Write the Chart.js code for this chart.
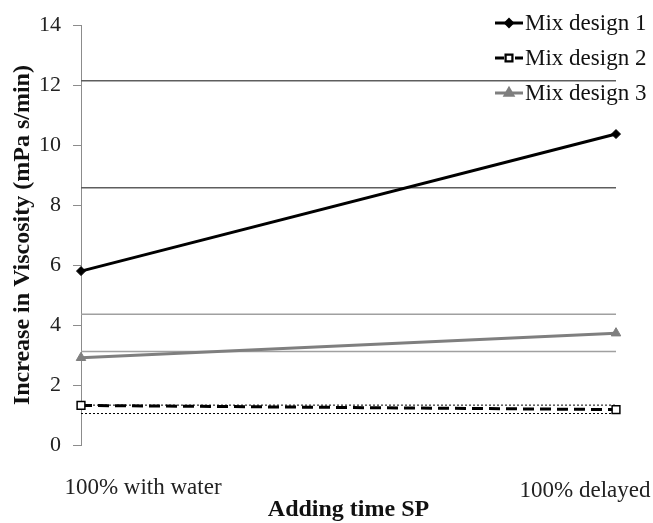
<!DOCTYPE html>
<html>
<head>
<meta charset="utf-8">
<script src="https://cdn.jsdelivr.net/npm/chart.js@4.4.1/dist/chart.umd.min.js"></script>
<style>
  html, body { margin: 0; padding: 0; background: #fff; }
  #wrap { width: 653px; height: 523px; }
</style>
</head>
<body>
<div id="wrap"><canvas id="viscosityChart" width="653" height="523"></canvas></div>
<script>
// categorie e valori
const categories = ['100% with water', '100% delayed'];
const mix1 = [5.8, 10.37];
const mix2 = [1.32, 1.18];
const mix3 = [2.91, 3.73];
// linee orizzontali di riferimento (limiti)
const mix1Upper = [12.15, 12.15];
const mix1Lower = [8.58, 8.58];
const mix2Upper = [1.33, 1.33];
const mix2Lower = [1.05, 1.05];
const mix3Upper = [4.36, 4.36];
const mix3Lower = [3.12, 3.12];
const yTicks = [0, 2, 4, 6, 8, 10, 12, 14];

const serif = '"Liberation Serif", "Times New Roman", serif';

// etichette categorie disegnate a mano (spostate come nell'originale)
const catLabels = {
  id: 'catLabels',
  afterDraw(chart) {
    const ctx = chart.ctx, x = chart.scales.x, area = chart.chartArea;
    const dx = [62, -31], dy = [43, 46];
    ctx.save();
    ctx.font = '23px ' + serif;
    ctx.fillStyle = '#222';
    ctx.textAlign = 'center';
    ctx.textBaseline = 'middle';
    categories.forEach((c, i) => {
      ctx.fillText(c, x.getPixelForValue(i) + dx[i], area.bottom + dy[i]);
    });
    ctx.restore();
  }
};

// legenda in alto a destra
const customLegend = {
  id: 'customLegend',
  afterDraw(chart) {
    const ctx = chart.ctx;
    const items = chart.data.datasets.filter(d => d.inLegend);
    ctx.save();
    items.forEach((d, i) => {
      const y = 23 + i * 35, x0 = 495, x1 = 523, xm = 509;
      ctx.strokeStyle = d.borderColor;
      ctx.lineWidth = d.borderWidth;
      ctx.setLineDash([]);
      ctx.beginPath();
      if (d.borderDash) {
        ctx.moveTo(x0, y); ctx.lineTo(x0 + 9, y);
        ctx.moveTo(x1 - 8, y); ctx.lineTo(x1, y);
      } else {
        ctx.moveTo(x0, y); ctx.lineTo(x1, y);
      }
      ctx.stroke();
      Chart.helpers.drawPoint(ctx, {
        pointStyle: d.pointStyle,
        radius: d.pointRadius - 1.2,
        borderWidth: d.pointBorderWidth,
        rotation: 0
      }, xm, y);
      ctx.fillStyle = d.pointBackgroundColor;
      ctx.strokeStyle = d.pointBorderColor;
      ctx.lineWidth = d.pointBorderWidth;
      ctx.fill();
      ctx.stroke();
      ctx.fillStyle = '#111';
      ctx.font = '23px ' + serif;
      ctx.textAlign = 'left';
      ctx.textBaseline = 'middle';
      ctx.fillText(d.label, 525, y + 1);
    });
    ctx.restore();
  }
};

function refLine(data, color, width, dash, order) {
  return {
    label: '', data: data, borderColor: color, borderWidth: width,
    borderDash: dash, pointRadius: 0, fill: false, order: order, inLegend: false
  };
}

const ctx = document.getElementById('viscosityChart').getContext('2d');
const viscosityChart = new Chart(ctx, {
  type: 'line',
  data: {
    labels: categories,
    datasets: [{
      label: 'Mix design 1', data: mix1, inLegend: true,
      borderColor: '#000', borderWidth: 3,
      pointStyle: 'rectRot', pointRadius: 4.5, pointBorderWidth: 1,
      pointBackgroundColor: '#000', pointBorderColor: '#000', order: 1
    }, {
      label: 'Mix design 2', data: mix2, inLegend: true,
      borderColor: '#000', borderWidth: 3, borderDash: [11, 6],
      pointStyle: 'rect', pointRadius: 5.5, pointBorderWidth: 1.5,
      pointBackgroundColor: '#fff', pointBorderColor: '#000', order: 1
    }, {
      label: 'Mix design 3', data: mix3, inLegend: true,
      borderColor: '#7f7f7f', borderWidth: 3,
      pointStyle: 'triangle', pointRadius: 5.5, pointBorderWidth: 1,
      pointBackgroundColor: '#7f7f7f', pointBorderColor: '#7f7f7f', order: 1
    },
      refLine(mix1Upper, '#5e5e5e', 1.5, [], 5),
      refLine(mix1Lower, '#5e5e5e', 1.5, [], 5),
      refLine(mix2Upper, '#000', 1, [2, 2], 5),
      refLine(mix2Lower, '#000', 1, [2, 2], 5),
      refLine(mix3Upper, '#a0a0a0', 1.5, [], 5),
      refLine(mix3Lower, '#a0a0a0', 1.5, [], 5)
    ]
  },
  options: {
    responsive: false,
    animation: false,
    layout: { padding: { top: 22, right: 37, left: 0, bottom: 0 } },
    plugins: { legend: { display: false }, tooltip: { enabled: false } },
    scales: {
      x: {
        type: 'category',
        offset: false,
        grid: { display: false },
        border: { display: false },
        ticks: { display: false },
        title: {
          display: true, text: 'Adding time SP', color: '#111',
          font: { family: serif, size: 24, weight: 'bold', lineHeight: 1 },
          padding: { top: 0, bottom: 1 }
        },
        afterFit: s => { s.height = 78; }
      },
      y: {
        min: 0, max: 14,
        afterBuildTicks: s => { s.ticks = yTicks.map(v => ({ value: v })); },
        ticks: { color: '#222', font: { family: serif, size: 22 }, padding: 12 },
        grid: { drawOnChartArea: false, drawTicks: true, tickLength: 8, color: '#8c8c8c' },
        border: { display: true, color: '#8c8c8c', width: 1 },
        title: {
          display: true, text: 'Increase in Viscosity (mPa s/min)', color: '#111',
          font: { family: serif, size: 24, weight: 'bold', lineHeight: 1 },
          padding: { top: 11, bottom: 0 }
        },
        afterFit: s => { s.width = 81; }
      }
    }
  },
  plugins: [catLabels, customLegend]
});
</script>
</body>
</html>
